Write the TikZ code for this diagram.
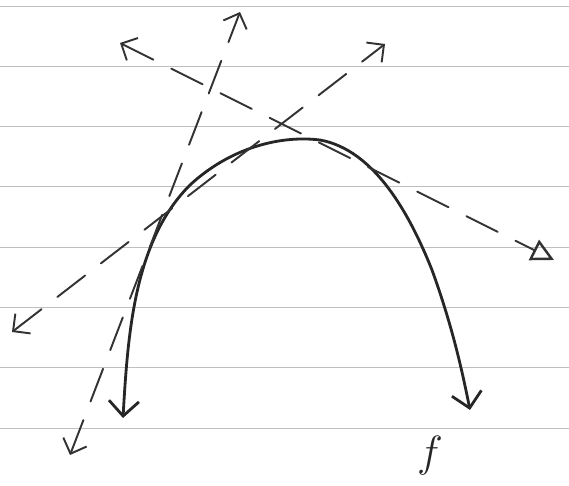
\documentclass[tikz,border=0pt]{standalone}
\usetikzlibrary{arrows.meta}

\begin{document}
\begin{tikzpicture}[x=0.02cm, y=-0.02cm,
    rule/.style={draw=black!25, line width=0.5pt},
    curve/.style={draw=black!85, line width=1.6pt, line cap=round, {Straight Barb[length=3mm, width=6mm]}-{Straight Barb[length=3mm, width=6mm]}},
    tangent/.style={draw=black!80, line width=1.1pt, dash pattern=on 0.7cm off 0.4cm, line cap=round},
    barb/.tip={Straight Barb[length=2.5mm, width=5mm]},
]
\useasboundingbox[fill=white] (0,0) rectangle (569,486);
% ruled paper
\foreach \r in {0,...,7}
  \draw[rule] (0,{6+60.3*\r}) -- (569,{6+60.3*\r});

% end points of the tangents
\coordinate (a1) at (120,43);
\coordinate (a2) at (554,260);
\coordinate (b1) at (12,332);
\coordinate (b2) at (385,44);
\coordinate (c1) at (70,455);
\coordinate (c2) at (240,12);

% the arch
\draw[curve] (123,418) .. controls (128,330) and (135,240) .. (190,185)
  .. controls (230,148) and (280,135) .. (320,140)
  .. controls (375,150) and (410,215) .. (432,270)
  .. controls (452,325) and (462,370) .. (470,410);

% tangents
\draw[tangent, barb-{Triangle[open, length=4.5mm, width=4.5mm, line width=1.4pt]}] (a1) -- (a2);
\draw[tangent, barb-barb] (b1) -- (b2);
\draw[tangent, barb-barb] (c1) -- (c2);

\node[font=\fontsize{34}{34}\selectfont, text=black!85] (f) at (430,456) {$f$};
\end{tikzpicture}
\end{document}
